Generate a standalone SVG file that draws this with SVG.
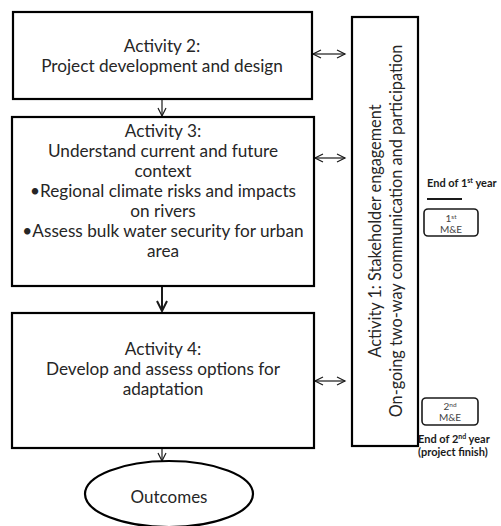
<svg xmlns="http://www.w3.org/2000/svg" width="501" height="526" viewBox="0 0 501 526">
  <defs>
    <style>
      .box { fill: #ffffff; stroke: #000000; stroke-width: 2.2; }
      .lbl { font-family: Lato, "Open Sans", "Liberation Sans", sans-serif; font-size: 17.2px; fill: #262626; text-anchor: middle; }
      .vlbl { font-family: Lato, "Open Sans", "Liberation Sans", sans-serif; font-size: 16.3px; fill: #262626; text-anchor: middle; }
      .note { font-family: Lato, "Open Sans", "Liberation Sans", sans-serif; font-size: 11px; font-weight: bold; fill: #1a1a1a; }
      .me { font-family: Lato, "Open Sans", "Liberation Sans", sans-serif; font-size: 10px; fill: #444444; text-anchor: middle; }
      .me-box { fill: #ffffff; stroke: #1a1a1a; stroke-width: 1.6; }
      .conn { stroke: #1a1a1a; fill: none; stroke-width: 1.2; }
      .conn-bold { stroke: #1a1a1a; fill: none; stroke-width: 2; }
    </style>
    <marker id="head" markerUnits="userSpaceOnUse" markerWidth="12" markerHeight="12" refX="9" refY="5" orient="auto-start-reverse" viewBox="0 0 12 10">
      <path d="M1,1 L9,5 L1,9" fill="none" stroke="#1a1a1a" stroke-width="1.2"/>
    </marker>
    <marker id="head-bold" markerUnits="userSpaceOnUse" markerWidth="14" markerHeight="14" refX="11" refY="6" orient="auto" viewBox="0 0 14 12">
      <path d="M1,1 L11,6 L1,11" fill="none" stroke="#1a1a1a" stroke-width="2"/>
    </marker>
  </defs>

  <rect width="501" height="526" fill="#ffffff"/>

  <!-- connectors -->
  <g id="connectors">
    <line class="conn" x1="162" y1="99" x2="162" y2="116" marker-end="url(#head)"/>
    <line class="conn-bold" x1="162" y1="286" x2="162" y2="311" marker-end="url(#head-bold)"/>
    <line class="conn" x1="162" y1="448" x2="162" y2="461" marker-end="url(#head)"/>
    <line class="conn" x1="313" y1="54" x2="345" y2="54" marker-start="url(#head)" marker-end="url(#head)"/>
    <line class="conn" x1="315" y1="158" x2="345" y2="158" marker-start="url(#head)" marker-end="url(#head)"/>
    <line class="conn" x1="315" y1="381" x2="345" y2="381" marker-start="url(#head)" marker-end="url(#head)"/>
  </g>

  <!-- Activity 2 -->
  <g id="activity2">
    <rect class="box" x="13" y="12" width="299" height="87"/>
    <text class="lbl" x="162" y="52">Activity 2:</text>
    <text class="lbl" x="162" y="72">Project development and design</text>
  </g>

  <!-- Activity 3 -->
  <g id="activity3">
    <rect class="box" x="12" y="117" width="302" height="169"/>
    <text class="lbl" x="163" y="137">Activity 3:</text>
    <text class="lbl" x="163" y="157">Understand current and future</text>
    <text class="lbl" x="163" y="177">context</text>
    <text class="lbl" x="163" y="197">•Regional climate risks and impacts</text>
    <text class="lbl" x="163" y="217">on rivers</text>
    <text class="lbl" x="163" y="237">•Assess bulk water security for urban</text>
    <text class="lbl" x="163" y="257">area</text>
  </g>

  <!-- Activity 4 -->
  <g id="activity4">
    <rect class="box" x="12" y="313" width="302" height="135"/>
    <text class="lbl" x="163" y="355">Activity 4:</text>
    <text class="lbl" x="163" y="375">Develop and assess options for</text>
    <text class="lbl" x="163" y="395">adaptation</text>
  </g>

  <!-- Outcomes -->
  <g id="outcomes">
    <ellipse class="box" cx="169" cy="494" rx="84" ry="33"/>
    <text class="lbl" x="169" y="503" style="font-size:17px">Outcomes</text>
  </g>

  <!-- Activity 1: stakeholder engagement column -->
  <g id="activity1">
    <rect class="box" x="352" y="17" width="66" height="429"/>
    <text class="vlbl" transform="translate(381,231) rotate(-90)" x="0" y="0">Activity 1: Stakeholder engagement</text>
    <text class="vlbl" transform="translate(402,231) rotate(-90)" x="0" y="0">On-going two-way communication and participation</text>
  </g>

  <!-- Year 1 milestone -->
  <g id="milestone1">
    <text class="note" x="427" y="187">End of 1<tspan font-size="7" dy="-4">st</tspan><tspan dy="4"> year</tspan></text>
    <line x1="427" y1="199" x2="462" y2="199" stroke="#1a1a1a" stroke-width="2"/>
    <rect class="me-box" x="424" y="209" width="54" height="27" rx="4"/>
    <text class="me" x="451" y="222">1<tspan font-size="6.5" dy="-3">st</tspan></text>
    <text class="me" x="451" y="233">M&amp;E</text>
  </g>

  <!-- Year 2 milestone -->
  <g id="milestone2">
    <rect class="me-box" x="422" y="398" width="56" height="27" rx="4"/>
    <text class="me" x="450" y="410">2<tspan font-size="6.5" dy="-3">nd</tspan></text>
    <text class="me" x="450" y="421">M&amp;E</text>
    <text class="note" x="418" y="443">End of 2<tspan font-size="7" dy="-4">nd</tspan><tspan dy="4"> year</tspan></text>
    <text class="note" x="418" y="456">(project finish)</text>
  </g>
</svg>
